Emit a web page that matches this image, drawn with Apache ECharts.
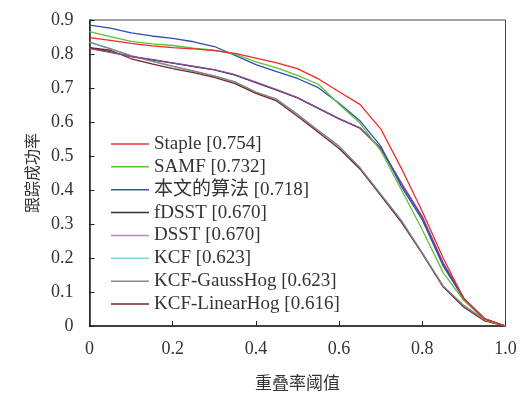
<!DOCTYPE html>
<html lang="zh-CN">
<head>
    <meta charset="UTF-8">
    <title>跟踪成功率</title>
    <script src="https://cdn.jsdelivr.net/npm/echarts@6/dist/echarts.min.js"></script>
    <style>
        html, body { margin: 0; padding: 0; background: #fff; }
        #chart { width: 521px; height: 396px; }
    </style>
</head>
<body>
    <div id="chart"></div>
    <script>
        // 重叠率阈值 0 ~ 1，步长 0.05
        const thresholds = [0,0.05,0.1,0.15,0.2,0.25,0.3,0.35,0.4,0.45,0.5,0.55,0.6,0.65,0.7,0.75,0.8,0.85,0.9,0.95,1.0];
        const names = ['Staple [0.754]','SAMF [0.732]','本文的算法 [0.718]','fDSST [0.670]','DSST [0.670]','KCF [0.623]','KCF-GaussHog [0.623]','KCF-LinearHog [0.616]'];
        const staple = [0.848,0.840,0.831,0.824,0.819,0.815,0.810,0.802,0.788,0.774,0.757,0.727,0.689,0.652,0.580,0.463,0.337,0.200,0.080,0.020,0];
        const samf   = [0.866,0.851,0.837,0.830,0.825,0.817,0.811,0.800,0.777,0.759,0.737,0.711,0.652,0.597,0.516,0.400,0.283,0.157,0.075,0.018,0];
        const ours   = [0.885,0.876,0.862,0.853,0.846,0.836,0.822,0.796,0.769,0.748,0.728,0.701,0.655,0.604,0.529,0.410,0.312,0.177,0.080,0.020,0];
        const fdsst  = [0.818,0.806,0.792,0.783,0.773,0.763,0.753,0.738,0.716,0.694,0.671,0.640,0.609,0.582,0.522,0.418,0.320,0.184,0.080,0.021,0];
        const dsst   = [0.816,0.805,0.793,0.784,0.774,0.764,0.754,0.739,0.717,0.695,0.672,0.641,0.610,0.583,0.523,0.420,0.322,0.186,0.082,0.022,0];
        const kcf    = [0.834,0.815,0.794,0.778,0.763,0.749,0.735,0.717,0.687,0.666,0.622,0.574,0.528,0.465,0.387,0.309,0.214,0.117,0.059,0.018,0];
        const gauss  = [0.835,0.816,0.795,0.779,0.764,0.750,0.736,0.718,0.688,0.667,0.623,0.575,0.529,0.466,0.388,0.310,0.215,0.118,0.060,0.018,0];
        const linear = [0.819,0.811,0.786,0.771,0.757,0.745,0.731,0.713,0.684,0.662,0.617,0.570,0.522,0.462,0.384,0.305,0.213,0.115,0.055,0.015,0];
        const values = [staple, samf, ours, fdsst, dsst, kcf, gauss, linear];
        const colors = ['#f02828','#5cc232','#2a4fb0','#2a2a2a','#8c4a9e','#78d0d8','#7c8686','#7a2222'];
        const legendColors = ['#f03a3a','#5cc232','#2f55b0','#333333','#c088c4','#80d4dc','#888888','#7a2222'];
        const zOrder = [8, 7, 6, 2, 5, 1, 4, 3];

        const serif = "'Liberation Serif', 'Noto Sans CJK SC', serif";
        const chart = echarts.init(document.getElementById('chart'));
        chart.setOption({
            animation: false,
            grid: { left: 89.5, right: 15.5, top: 20, bottom: 67, show: true, borderColor: '#444', borderWidth: 1 },
            legend: {
                orient: 'vertical', left: 106, top: 129,
                icon: 'rect', itemWidth: 38, itemHeight: 1.5, itemGap: 2.86,
                textStyle: { fontFamily: serif, fontSize: 19, lineHeight: 20, color: '#333' },
                data: names.map((n, i) => ({ name: n, itemStyle: { color: legendColors[i] } }))
            },
            xAxis: {
                type: 'value', min: 0, max: 1, interval: 0.2,
                name: '重叠率阈值', nameLocation: 'middle', nameGap: 48,
                nameTextStyle: { fontFamily: "'Noto Sans CJK SC'", fontSize: 17, color: '#333' },
                axisLine: { lineStyle: { color: '#222', width: 1.5 } },
                axisTick: { inside: true, length: 5, lineStyle: { color: '#222' } },
                axisLabel: { margin: 14, fontFamily: serif, fontSize: 18, color: '#333',
                    formatter: v => v === 1 ? '1.0' : String(v) },
                splitLine: { show: false }
            },
            yAxis: {
                type: 'value', min: 0, max: 0.9, interval: 0.1,
                name: '跟踪成功率', nameLocation: 'middle', nameGap: 50, nameRotate: 90,
                nameTextStyle: { fontFamily: "'Noto Sans CJK SC'", fontSize: 16, color: '#333' },
                axisLine: { show: true, lineStyle: { color: '#222', width: 1.5 } },
                axisTick: { show: true, inside: true, length: 5, lineStyle: { color: '#222' } },
                axisLabel: { margin: 16, fontFamily: serif, fontSize: 18, color: '#333',
                    formatter: v => String(Math.round(v * 10) / 10) },
                splitLine: { show: false }
            },
            series: names.map((n, i) => ({
                name: n, type: 'line', symbol: 'none', z: zOrder[i],
                data: thresholds.map((t, j) => [t, values[i][j]]),
                lineStyle: { color: colors[i], width: 1.3 },
                itemStyle: { color: colors[i] }
            }))
        });
    </script>
</body>
</html>
